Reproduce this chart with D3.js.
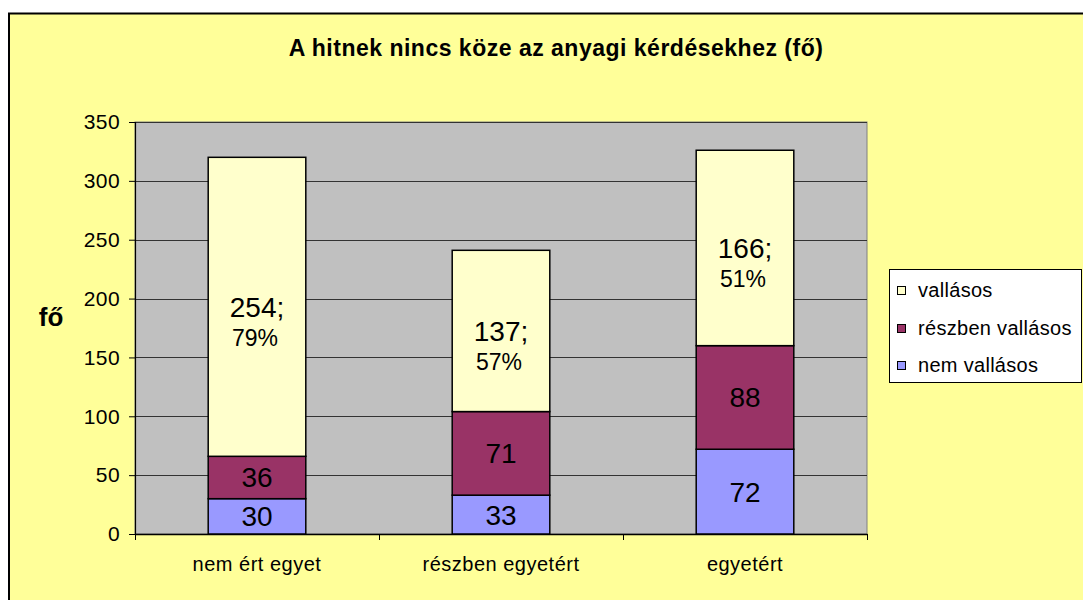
<!DOCTYPE html>
<html><head><meta charset="utf-8">
<script src="https://cdn.jsdelivr.net/npm/d3@7"></script>
<style>
html,body{margin:0;padding:0;background:#fff;}
svg{display:block;font-family:Arial,"Liberation Sans",sans-serif;}
</style></head>
<body>
<svg id="chart" width="1083" height="600"></svg>
<script>
const title = "A hitnek nincs köze az anyagi kérdésekhez (fő)";
const yAxisTitle = "fő";
const categories = ["nem ért egyet", "részben egyetért", "egyetért"];
const seriesNames = ["nem vallásos", "részben vallásos", "vallásos"];
const nemVallasos = [30, 33, 72];
const reszbenVallasos = [36, 71, 88];
const vallasos = [254, 137, 166];
const vallasosPct = ["79%", "57%", "51%"];
const yTicks = [0, 50, 100, 150, 200, 250, 300, 350];
const colors = ["#9999FF", "#993366", "#FFFFCC"];

const svg = d3.select("#chart");
const plot = {x0: 135, x1: 867, y0: 122, y1: 534};

// outer chart area
svg.append("rect").attr("x", 9).attr("y", 13.5).attr("width", 1100).attr("height", 620)
  .attr("fill", "#FFFF99").attr("stroke", "#000").attr("stroke-width", 2);

const x = d3.scaleBand().domain(categories).range([plot.x0, plot.x1]).paddingInner(0.6).paddingOuter(0.3);
const xb = d3.scaleBand().domain(categories).range([plot.x0, plot.x1]).padding(0);
const y = d3.scaleLinear().domain([0, 350]).range([plot.y1, plot.y0]);

// plot area
svg.append("rect").attr("x", plot.x0).attr("y", plot.y0).attr("width", plot.x1 - plot.x0).attr("height", plot.y1 - plot.y0)
  .attr("fill", "#C0C0C0").attr("stroke", "#808080").attr("stroke-width", 1);

// gridlines
svg.append("g").selectAll("line").data(yTicks.filter(d => d > 0)).join("line")
  .attr("x1", plot.x0).attr("x2", plot.x1)
  .attr("y1", d => Math.round(y(d)) + 0.5).attr("y2", d => Math.round(y(d)) + 0.5)
  .attr("stroke", "#333").attr("stroke-width", 1);

// y axis
const yAxis = d3.axisLeft(y).tickValues(yTicks).tickSize(6).tickPadding(9);
const gy = svg.append("g").attr("transform", `translate(${plot.x0},0)`).call(yAxis);
gy.select(".domain").attr("stroke", "#000").attr("stroke-width", 1.2);
gy.selectAll(".tick line").attr("stroke", "#000");
gy.selectAll(".tick text").attr("font-size", 21).attr("letter-spacing", 0.4).attr("fill", "#000")
  .attr("font-family", "Arial, 'Liberation Sans', sans-serif");

// x axis
const xAxis = d3.axisBottom(xb).tickSize(0).tickPadding(0);
const gx = svg.append("g").attr("transform", `translate(0,${plot.y1})`).call(xAxis);
gx.select(".domain").attr("stroke", "#000").attr("stroke-width", 1.5);
gx.selectAll(".tick text").attr("font-size", 20).attr("letter-spacing", 0.5).attr("fill", "#000")
  .attr("dy", 0).attr("y", 37).attr("font-family", "Arial, 'Liberation Sans', sans-serif");
// category boundary ticks
const bounds = categories.map(c => xb(c)).concat([xb(categories[categories.length - 1]) + xb.bandwidth()]);
svg.append("g").selectAll("line").data(bounds).join("line")
  .attr("x1", d => Math.round(d) + 0.5).attr("x2", d => Math.round(d) + 0.5)
  .attr("y1", plot.y1).attr("y2", plot.y1 + 6).attr("stroke", "#000");

// stacked bars
const rows = categories.map((c, i) => ({cat: c, "nem vallásos": nemVallasos[i], "részben vallásos": reszbenVallasos[i], "vallásos": vallasos[i], pct: vallasosPct[i]}));
const stack = d3.stack().keys(seriesNames)(rows);

const gBars = svg.append("g");
stack.forEach((layer, li) => {
  gBars.selectAll(null).data(layer).join("rect")
    .attr("x", d => x(d.data.cat))
    .attr("width", x.bandwidth())
    .attr("y", d => y(d[1]))
    .attr("height", d => y(d[0]) - y(d[1]))
    .attr("fill", colors[li]).attr("stroke", "#000").attr("stroke-width", 1.5);
});

// labels
const gLab = svg.append("g").attr("fill", "#000");
stack.forEach((layer, li) => {
  layer.forEach(d => {
    const cx = x(d.data.cat) + x.bandwidth() / 2;
    const cy = y((d[0] + d[1]) / 2);
    const v = d[1] - d[0];
    if (li < 2) {
      gLab.append("text").attr("x", cx).attr("y", cy + 10).attr("text-anchor", "middle")
        .attr("font-size", 28).text(v);
    } else {
      gLab.append("text").attr("x", cx).attr("y", cy + 10).attr("text-anchor", "middle")
        .attr("font-size", 28).text(v + ";");
      gLab.append("text").attr("x", cx - 2).attr("y", cy + 39).attr("text-anchor", "middle")
        .attr("font-size", 23).text(d.data.pct);
    }
  });
});

// title
svg.append("text").attr("x", 556).attr("y", 55.5).attr("text-anchor", "middle")
  .attr("font-size", 23).attr("font-weight", "bold").attr("letter-spacing", 0.5).text(title);

// y axis title
svg.append("text").attr("x", 51).attr("y", 326).attr("text-anchor", "middle")
  .attr("font-size", 26).attr("font-weight", "bold").text(yAxisTitle);

// legend
const lg = svg.append("g");
lg.append("rect").attr("x", 889.5).attr("y", 269.5).attr("width", 192).attr("height", 113)
  .attr("fill", "#fff").attr("stroke", "#000").attr("stroke-width", 1);
const legendOrder = [2, 1, 0];
legendOrder.forEach((si, k) => {
  const cy = 290 + k * 37.5;
  lg.append("rect").attr("x", 897.5).attr("y", Math.round(cy - 4) + 0.5).attr("width", 8).attr("height", 8)
    .attr("fill", colors[si]).attr("stroke", "#000").attr("stroke-width", 1);
  lg.append("text").attr("x", 918).attr("y", cy + 7).attr("font-size", 20).attr("letter-spacing", 0.3).text(seriesNames[si]);
});
</script>
</body></html>
